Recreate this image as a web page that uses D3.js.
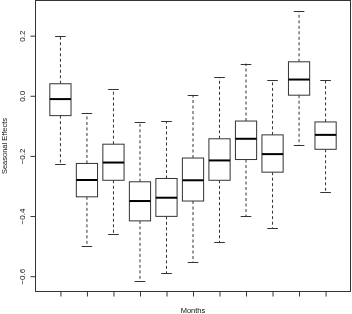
<!DOCTYPE html>
<html>
<head>
<meta charset="utf-8">
<script src="https://cdn.jsdelivr.net/npm/d3@7"></script>
<style>
    body { margin: 0; background: #fff; }
    svg { display: block; font-family: "Liberation Sans", Arial, sans-serif; filter: grayscale(1); }
</style>
</head>
<body>
<svg id="chart" width="352" height="314"></svg>
<script>
// one box per month (11 groups, x labels left blank as in the original)
let months = [1, 2, 3, 4, 5, 6, 7, 8, 9, 10, 11];
let whiskerHigh = [0.200, -0.057, 0.021, -0.088, -0.084, 0.003, 0.062, 0.107, 0.051, 0.281, 0.052];
let q3 = [0.040, -0.225, -0.161, -0.286, -0.275, -0.207, -0.143, -0.084, -0.130, 0.113, -0.087];
let median = [-0.011, -0.280, -0.222, -0.350, -0.339, -0.281, -0.215, -0.143, -0.194, 0.054, -0.130];
let q1 = [-0.066, -0.336, -0.281, -0.416, -0.401, -0.350, -0.281, -0.212, -0.254, 0.002, -0.178];
let whiskerLow = [-0.227, -0.501, -0.460, -0.615, -0.590, -0.554, -0.487, -0.401, -0.439, -0.165, -0.319];
let yTicks = [-0.6, -0.4, -0.2, 0.0, 0.2];

function render() {
    let svg = d3.select("#chart");

    let left = 35.5, right = 350.5, top = 0.5, bottom = 291.5;

    let boxes = months.map((m, i) => ({
        m: m, hi: whiskerHigh[i], q3: q3[i], med: median[i], q1: q1[i], lo: whiskerLow[i]
    }));

    // R style 4% padding on both axes
    let lo = d3.min(whiskerLow), hi = d3.max(whiskerHigh);
    let pad = (hi - lo) * 0.04;
    let yScale = d3.scaleLinear().domain([lo - pad, hi + pad]).range([bottom, top]);
    let xPad = months.length * 0.04;
    let xScale = d3.scaleLinear().domain([0.5 - xPad, months.length + 0.5 + xPad]).range([left, right]);

    let unit = xScale(2) - xScale(1);
    let boxW = unit * 0.8;
    let capW = boxW * 0.5;

    let g = svg.append("g");

    // whiskers
    g.selectAll(".whisker")
        .data(boxes.flatMap(d => [[d.m, d.q3, d.hi], [d.m, d.q1, d.lo]]))
        .enter()
        .append("line")
        .attr("x1", d => xScale(d[0]))
        .attr("x2", d => xScale(d[0]))
        .attr("y1", d => yScale(d[1]))
        .attr("y2", d => yScale(d[2]))
        .attr("stroke", "#333")
        .attr("stroke-width", 1)
        .attr("stroke-dasharray", "3,2.5");

    g.selectAll(".cap")
        .data(boxes.flatMap(d => [[d.m, d.hi], [d.m, d.lo]]))
        .enter()
        .append("line")
        .attr("x1", d => xScale(d[0]) - capW / 2)
        .attr("x2", d => xScale(d[0]) + capW / 2)
        .attr("y1", d => Math.round(yScale(d[1])) + 0.5)
        .attr("y2", d => Math.round(yScale(d[1])) + 0.5)
        .attr("stroke", "#333")
        .attr("stroke-width", 1);

    g.selectAll(".box")
        .data(boxes)
        .enter()
        .append("rect")
        .attr("x", d => xScale(d.m) - boxW / 2)
        .attr("y", d => yScale(d.q3))
        .attr("width", boxW)
        .attr("height", d => yScale(d.q1) - yScale(d.q3))
        .attr("fill", "white")
        .attr("stroke", "#333")
        .attr("stroke-width", 1);

    g.selectAll(".median")
        .data(boxes)
        .enter()
        .append("line")
        .attr("x1", d => xScale(d.m) - boxW / 2)
        .attr("x2", d => xScale(d.m) + boxW / 2)
        .attr("y1", d => yScale(d.med))
        .attr("y2", d => yScale(d.med))
        .attr("stroke", "#000")
        .attr("stroke-width", 2);

    // frame
    svg.append("rect")
        .attr("x", left)
        .attr("y", top)
        .attr("width", right - left)
        .attr("height", bottom - top)
        .attr("fill", "none")
        .attr("stroke", "#333")
        .attr("stroke-width", 1);

    // y axis, labels turned like R does
    let yAxis = svg.append("g")
        .attr("transform", "translate(" + left + ",0)")
        .call(d3.axisLeft(yScale).tickValues(yTicks).tickSize(5).tickFormat(d3.format(".1f")));
    yAxis.select(".domain").remove();
    yAxis.selectAll("line").attr("stroke", "#333");
    yAxis.selectAll("text")
        .attr("x", null)
        .attr("dy", null)
        .attr("transform", "translate(-13.5,0) rotate(-90)")
        .attr("text-anchor", "middle")
        .attr("dominant-baseline", "central")
        .attr("font-size", "8px")
        .attr("fill", "#111")
        .text(d => d3.format(".1f")(d).replace("-", "\u2212"));

    let xAxis = svg.append("g")
        .attr("transform", "translate(0," + bottom + ")")
        .call(d3.axisBottom(xScale).tickValues(months).tickSize(5).tickFormat(""));
    xAxis.select(".domain").remove();
    xAxis.selectAll("line").attr("stroke", "#333");

    svg.append("text")
        .attr("x", (left + right) / 2)
        .attr("y", 310)
        .attr("font-size", "7.5px")
        .attr("fill", "#111")
        .style("text-anchor", "middle")
        .attr("dominant-baseline", "central")
        .text("Months");

    svg.append("text")
        .attr("transform", "translate(4.5," + (top + bottom) / 2 + ") rotate(-90)")
        .attr("font-size", "7.5px")
        .attr("fill", "#111")
        .style("text-anchor", "middle")
        .attr("dominant-baseline", "central")
        .text("Seasonal Effects");
}

document.addEventListener('DOMContentLoaded', (event) => {
    render();
});
</script>
</body>
</html>
